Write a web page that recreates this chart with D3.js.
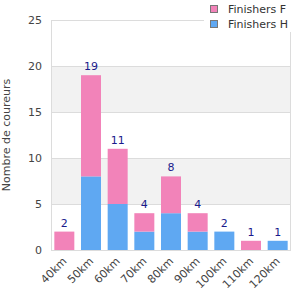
<!DOCTYPE html>
<meta charset="utf-8">
<style>
body { margin: 0; background: #fff; }
text { font-family: "DejaVu Sans", sans-serif; }
</style>
<svg></svg>
<script src="https://d3js.org/d3.v7.min.js"></script>
<script>
var categories = ["40km", "50km", "60km", "70km", "80km", "90km", "100km", "110km", "120km"];
var finishersH = [0, 8, 5, 2, 4, 2, 2, 0, 1];
var finishersF = [2, 11, 6, 2, 4, 2, 0, 1, 0];
var yTicks = [0, 5, 10, 15, 20, 25];

var width = 300,
    height = 300,
    margin = {top: 20, right: 9, bottom: 50, left: 51};

var svg = d3.select("svg")
    .attr("width", width)
    .attr("height", height);

var x = d3.scaleBand()
    .domain(categories)
    .range([margin.left, width - margin.right])
    .paddingInner(0.25)
    .paddingOuter(0.125);

var y = d3.scaleLinear()
    .domain([0, 25])
    .range([height - margin.bottom, margin.top]);

// alternating bands
[[5, 10], [15, 20]].forEach(function(b) {
  svg.append("rect")
      .attr("x", margin.left)
      .attr("y", y(b[1]))
      .attr("width", width - margin.right - margin.left)
      .attr("height", y(b[0]) - y(b[1]))
      .attr("fill", "#f2f2f2");
});

// grid
svg.append("g")
    .attr("transform", "translate(" + margin.left + ",0)")
    .call(d3.axisLeft(y).tickValues(yTicks).tickSize(-(width - margin.right - margin.left)).tickFormat(""))
    .call(function(g) { g.select(".domain").remove(); })
    .selectAll("line").attr("stroke", "#dcdcdc");

// frame
svg.append("rect")
    .attr("x", margin.left + 0.5)
    .attr("y", margin.top + 0.5)
    .attr("width", width - margin.right - margin.left - 1)
    .attr("height", height - margin.bottom - margin.top)
    .attr("fill", "none")
    .attr("stroke", "#dcdcdc");

var rows = categories.map(function(c, i) {
  return {cat: c, h: finishersH[i], f: finishersF[i]};
});

svg.append("g").selectAll("rect")
    .data(rows)
  .join("rect")
    .attr("x", function(d) { return x(d.cat); })
    .attr("y", function(d) { return y(d.h); })
    .attr("width", x.bandwidth())
    .attr("height", function(d) { return y(0) - y(d.h); })
    .attr("fill", "#5fa8f2");

svg.append("g").selectAll("rect")
    .data(rows)
  .join("rect")
    .attr("x", function(d) { return x(d.cat); })
    .attr("y", function(d) { return y(d.h + d.f); })
    .attr("width", x.bandwidth())
    .attr("height", function(d) { return y(d.h) - y(d.h + d.f); })
    .attr("fill", "#f283b9");

svg.append("g").selectAll("text")
    .data(rows)
  .join("text")
    .attr("x", function(d) { return x(d.cat) + x.bandwidth() / 2; })
    .attr("y", function(d) { return y(d.h + d.f) - 5; })
    .attr("text-anchor", "middle")
    .attr("font-size", 11)
    .attr("fill", "#1a1a8c")
    .text(function(d) { return d.h + d.f; });

// y axis labels
svg.append("g").selectAll("text")
    .data(yTicks)
  .join("text")
    .attr("x", 42)
    .attr("y", function(d) { return y(d) + 4; })
    .attr("text-anchor", "end")
    .attr("font-size", 11)
    .attr("fill", "#444")
    .text(function(d) { return d; });

// x axis labels
svg.append("g").selectAll("text")
    .data(categories)
  .join("text")
    .attr("transform", function(d) {
      return "translate(" + (x(d) + x.bandwidth() / 2 + 3) + "," + (height - margin.bottom + 12) + ") rotate(-45)";
    })
    .attr("text-anchor", "end")
    .attr("font-size", 11)
    .attr("fill", "#444")
    .text(function(d) { return d; });

svg.append("text")
    .attr("transform", "translate(10," + ((margin.top + height - margin.bottom) / 2) + ") rotate(-90)")
    .attr("text-anchor", "middle")
    .attr("font-size", 11)
    .attr("fill", "#444")
    .text("Nombre de coureurs");

// legend
var legend = svg.append("g");
legend.append("rect")
    .attr("x", 204).attr("y", 0)
    .attr("width", 96).attr("height", 32)
    .attr("fill", "#fff");
[["Finishers F", "#f283b9"], ["Finishers H", "#5fa8f2"]].forEach(function(l, i) {
  legend.append("rect")
      .attr("x", 210.5).attr("y", 5.5 + i * 15)
      .attr("width", 7).attr("height", 7)
      .attr("fill", l[1])
      .attr("stroke", "#777");
  legend.append("text")
      .attr("x", 228).attr("y", 13 + i * 15)
      .attr("font-size", 11)
      .attr("fill", "#333")
      .text(l[0]);
});
</script>
